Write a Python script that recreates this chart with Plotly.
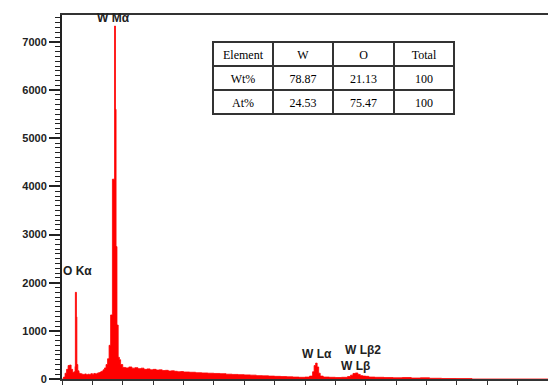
import plotly.graph_objects as go

# ---- spectrum data (energy in keV, counts) ----
energy_kev = [0.00, 0.05, 0.10, 0.15, 0.20, 0.25, 0.30, 0.35, 0.40, 0.43, 0.44, 0.475, 0.49, 0.52,
              0.56, 0.60, 0.65, 0.70, 0.75, 0.80, 0.85, 0.90, 0.95, 1.00, 1.05, 1.10, 1.15, 1.20,
              1.25, 1.30, 1.35, 1.40, 1.45, 1.50, 1.55, 1.60, 1.66, 1.73, 1.76, 1.78, 1.81, 1.85,
              1.89, 1.93, 2.00, 2.10, 2.20, 2.30, 2.40, 2.50, 2.60, 2.70, 2.80, 2.90, 3.00, 3.10,
              3.20, 3.30, 3.40, 3.50, 3.60, 3.70, 3.80, 3.90, 4.00, 4.20, 4.40, 4.60, 4.80, 5.00,
              5.20, 5.40, 5.60, 5.80, 6.00, 6.20, 6.40, 6.60, 6.80, 7.00, 7.20, 7.40, 7.60, 7.80,
              8.00, 8.15, 8.25, 8.30, 8.35, 8.40, 8.45, 8.50, 8.60, 8.80, 9.00, 9.20, 9.40, 9.50,
              9.58, 9.66, 9.74, 9.82, 9.90, 10.00, 10.10, 10.30, 10.60, 10.90, 11.20, 11.50, 11.80,
              12.10, 12.50, 13.00, 13.50, 16.00]
counts = [0, 40, 120, 200, 280, 290, 200, 140, 150, 260, 1800, 1290, 300, 170,
          120, 110, 100, 95, 105, 90, 100, 95, 110, 100, 115, 105, 120, 130,
          145, 160, 190, 230, 300, 420, 700, 1330, 4150, 7330, 5600, 2750, 1120, 450,
          400, 300, 240, 230, 250, 225, 235, 215, 225, 200, 210, 190, 200, 185,
          190, 175, 180, 165, 170, 160, 150, 155, 145, 140, 130, 125, 120, 115,
          110, 100, 95, 90, 85, 80, 70, 65, 60, 55, 50, 45, 40, 35,
          40, 60, 150, 280, 330, 250, 120, 60, 40, 35, 30, 35, 50, 80,
          115, 125, 95, 70, 60, 55, 40, 35, 30, 25, 30, 20, 25,
          15, 10, 8, 0, 0]

# ---- peak labels ----
peak_labels = ["W Mα", "O Kα", "W Lα", "W Lβ2", "W Lβ"]
label_e = [1.71, 0.51, 8.39, 9.90, 9.67]
label_c = [7500, 2250, 516, 609, 279]

# ---- composition table ----
table_header = ["Element", "W", "O", "Total"]
row_labels = ["Wt%", "At%"]
w_vals = ["78.87", "24.53"]
o_vals = ["21.13", "75.47"]
total_vals = ["100", "100"]

fig = go.Figure()

fig.add_trace(go.Scatter(
    x=energy_kev, y=counts, mode="lines", line_shape="hv",
    line=dict(color="#ff0000", width=0.8),
    fill="tozeroy", fillcolor="#ff0000", hoverinfo="skip",
))

tfont = dict(family="Liberation Serif, Times New Roman, serif", size=12, color="black")
fig.add_trace(go.Table(
    domain=dict(x=[0.3107, 0.8066], y=[0.724, 0.926]),
    columnwidth=[60, 60, 61, 60],
    header=dict(values=table_header, height=24, fill_color="white",
                line=dict(color="#333333", width=1.5), font=tfont, align="center"),
    cells=dict(values=[row_labels, w_vals, o_vals, total_vals], height=24,
               fill_color="white", line=dict(color="#333333", width=1.5),
               font=tfont, align="center"),
))

for t, e, c in zip(peak_labels, label_e, label_c):
    fig.add_annotation(x=e, y=c, text=t, showarrow=False, xanchor="center", yanchor="middle",
                       font=dict(family="Liberation Sans, Arial", size=12, color="#222222", weight="bold"))

fig.update_layout(
    width=548, height=385,
    margin=dict(l=62, r=0, t=15, b=4),
    plot_bgcolor="white", paper_bgcolor="white",
    showlegend=False,
    xaxis=dict(range=[0, 16], dtick=1, tick0=0, showticklabels=False,
               ticks="outside", ticklen=5, tickcolor="#333333", tickwidth=1,
               showline=True, linecolor="#333333", linewidth=2, mirror=True,
               showgrid=False, zeroline=False),
    yaxis=dict(range=[0, 7560], dtick=1000, tick0=0,
               ticks="outside", ticklen=11, tickcolor="#222222", tickwidth=1.5,
               showline=True, linecolor="#222222", linewidth=2,
               minor=dict(dtick=100, ticks="outside", ticklen=5, tickcolor="#222222", tickwidth=1),
               tickfont=dict(family="Liberation Sans, Arial", size=11, color="#222222", weight="bold"),
               ticklabelstandoff=0, ticklabeloverflow="allow",
               showgrid=False, zeroline=False),
)

fig.write_html("out.html", config={"displayModeBar": False},
               post_script="document.body.style.margin='0px';document.body.style.overflow='hidden';")
